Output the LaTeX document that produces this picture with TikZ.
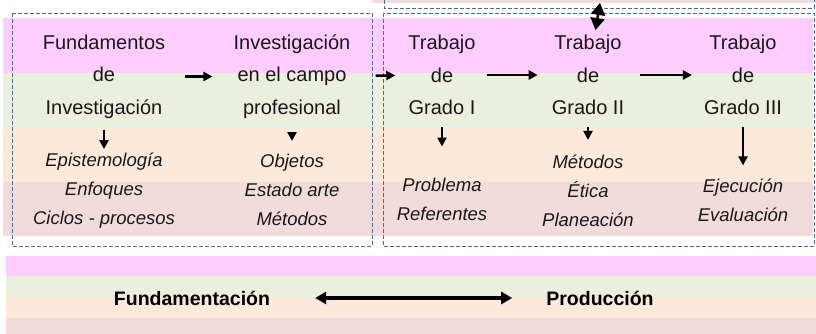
\documentclass[tikz,border=0pt]{standalone}
\usepackage{fontspec}
\setmainfont{Liberation Sans}
\usepackage{xcolor}
\usepackage{tikz}
\usetikzlibrary{arrows.meta, positioning}
\definecolor{bandpink}{HTML}{FFCCFF}
\definecolor{bandgreen}{HTML}{EBEFDE}
\definecolor{bandpeach}{HTML}{FDE9D9}
\definecolor{bandrose}{HTML}{F2DCDB}
\definecolor{frameblue}{HTML}{4A6A94}
\tikzset{
  stage/.style={align=center, inner sep=0pt, text=black!90, font=\fontsize{20}{32.5}\selectfont},
  topics/.style={align=center, inner sep=0pt, text=black!90, font=\fontsize{18.5}{29}\selectfont\itshape},
  phase/.style={inner sep=0pt, font=\fontsize{19.5}{21}\selectfont\bfseries},
  arrow/.style={-{Triangle[length=9pt,width=9pt]}, line width=2.5pt},
  frame/.style={draw=frameblue, dash pattern=on 4pt off 2pt, line width=0.8pt},
}

\begin{document}
\begin{tikzpicture}[x=1pt, y=-1pt]
    \useasboundingbox (0,0) rectangle (816,334);
    % coloured bands
    \fill[bandrose] (372,0) rectangle (816,3);
    \fill[bandpink]  (3,18)  rectangle (813,73);
    \fill[bandgreen] (3,73)  rectangle (813,128);
    \fill[bandpeach] (3,128) rectangle (813,182);
    \fill[bandrose]  (3,182) rectangle (813,236);
    \fill[bandpink]  (6,256) rectangle (816,276);
    \fill[bandgreen] (6,276) rectangle (816,297);
    \fill[bandpeach] (6,297) rectangle (816,318);
    \fill[bandrose]  (6,318) rectangle (816,334);
    % frames
    \draw[frame] (384,0) -- (384,8) -- (814,8) -- (814,0);
    \draw[frame] (12,13) rectangle (372,246);
    \draw[frame] (383,13) rectangle (814,246);

    \node[stage] (fund) at (104,76.5) {Fundamentos\\de\\Investigación};
    \node[stage] (campo) at (292,76.5) {Investigación\\en el campo\\profesional};
    \node[stage] (tg1) at (442,75) {Trabajo\\de\\Grado I};
    \node[stage] (tg2) at (588,75) {Trabajo\\de\\Grado II};
    \node[stage] (tg3) at (743,75) {Trabajo\\de\\Grado III};

    \node[topics] (fundlist) at (104,191) {Epistemología\\Enfoques\\Ciclos - procesos};
    \node[topics] (campolist) at (292,190) {Objetos\\Estado arte\\Métodos};
    \node[topics] (tg1list) at (442,199) {Problema\\Referentes};
    \node[topics] (tg2list) at (588,191) {Métodos\\Ética\\Planeación};
    \node[topics] (tg3list) at (743,200) {Ejecución\\Evaluación};

    \draw[arrow, shorten <=20pt, shorten >=21pt] (fund) -- (campo);
    \draw[arrow, shorten <=25pt, shorten >=13pt] (campo) -- (tg1);
    \draw[arrow, shorten <=11pt, shorten >=14pt] (tg1) -- (tg2);
    \draw[arrow, shorten <=16pt, shorten >=12pt] (tg2) -- (tg3);

    \draw[arrow, shorten <=11pt, shorten >=4pt] (fund) -- (fundlist);
    \draw[arrow, shorten <=15pt, shorten >=13pt] (campo) -- (campolist);
    \draw[arrow, shorten <=12pt, shorten >=31pt] (tg1) -- (tg1list);
    \draw[arrow, shorten <=12pt, shorten >=15pt] (tg2) -- (tg2list);
    \draw[arrow, shorten <=12pt, shorten >=13pt] (tg3) -- (tg3list);

    \coordinate (link) at (600,3);
    \draw[{Triangle[length=12pt,width=14pt]}-{Triangle[length=12pt,width=14pt]}, line width=2.5pt, shorten >=5pt] (link) -- (tg2);

    \node[phase] (fundam) at (192,298) {Fundamentación};
    \node[phase] (prod) at (600,298) {Producción};
    \draw[{Triangle[length=11pt,width=12pt]}-{Triangle[length=11pt,width=12pt]}, line width=3.2pt, shorten <=45pt, shorten >=34pt] (fundam) -- (prod);
\end{tikzpicture}
\end{document}
